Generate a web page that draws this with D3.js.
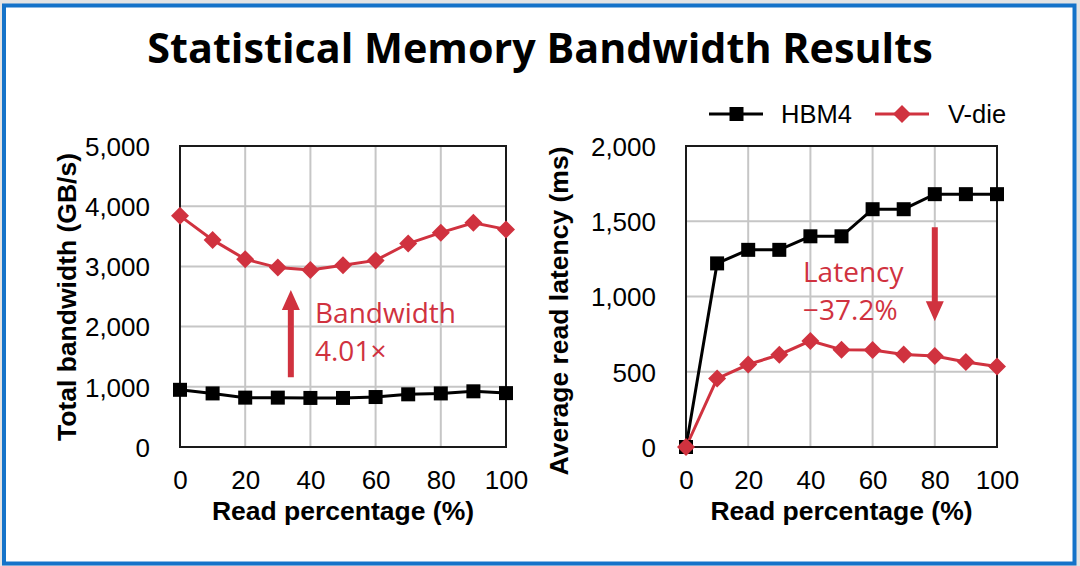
<!DOCTYPE html>
<html>
<head>
<meta charset="utf-8">
<script src="https://cdn.jsdelivr.net/npm/d3@7"></script>
<style>
  html, body { margin: 0; padding: 0; background: #e4e4e4; }
  svg { display: block; }
</style>
</head>
<body>
<svg id="chart" width="1080" height="566"></svg>
<script>
// ---- data ----
const readPct = [0, 10, 20, 30, 40, 50, 60, 70, 80, 90, 100];
const bwHBM4 = [950, 890, 820, 820, 815, 815, 830, 875, 890, 925, 895];
const bwVdie = [3840, 3440, 3120, 2980, 2940, 3020, 3100, 3380, 3560, 3725, 3615];
const latHBM4 = [0, 1220, 1310, 1310, 1400, 1400, 1580, 1580, 1680, 1680, 1680];
const latVdie = [0, 455, 548, 613, 705, 646, 645, 615, 605, 565, 535];
const xTicks = [0, 20, 40, 60, 80, 100];
const bwTicks = [0, 1000, 2000, 3000, 4000, 5000];
const latTicks = [0, 500, 1000, 1500, 2000];
const seriesNames = ["HBM4", "V-die"];
const titleText = "Statistical Memory Bandwidth Results";
const bwAnnot = ["Bandwidth", "4.01×"];
const latAnnot = ["Latency", "\u221237.2%"];

const BLACK = "#000000";
const RED = "#d0323f";
const GRID = "#c6c6c6";

const svg = d3.select("#chart");

// frame
svg.append("rect").attr("x", 0).attr("y", 0).attr("width", 1080).attr("height", 566).attr("fill", "#e4e4e4");
svg.append("rect").attr("x", 4).attr("y", 5.5).attr("width", 1070.5).attr("height", 558)
  .attr("fill", "#ffffff").attr("stroke", "#1573c9").attr("stroke-width", 4);

// title
svg.append("text").attr("x", 540).attr("y", 63).attr("text-anchor", "middle")
  .attr("font-family", "'Open Sans', sans-serif").attr("font-weight", 700).attr("font-size", 41.3)
  .attr("fill", "#000").text(titleText);

const fontAxis = "'Liberation Sans', Arial, sans-serif";

function panel(opts) {
  const x = d3.scaleLinear().domain([0, 100]).range([opts.x0, opts.x1]);
  const y = d3.scaleLinear().domain([0, opts.ymax]).range([447, 146]);
  const g = svg.append("g");

  // grid
  g.append("g").selectAll("line").data(xTicks.slice(1, -1)).join("line")
    .attr("x1", d => x(d)).attr("x2", d => x(d)).attr("y1", y(0)).attr("y2", y(opts.ymax))
    .attr("stroke", GRID).attr("stroke-width", 2);
  g.append("g").selectAll("line").data(opts.yTicks.slice(1, -1)).join("line")
    .attr("x1", x(0)).attr("x2", x(100)).attr("y1", d => y(d)).attr("y2", d => y(d))
    .attr("stroke", GRID).attr("stroke-width", 2);

  // border
  g.append("rect").attr("x", x(0)).attr("y", y(opts.ymax)).attr("width", x(100) - x(0)).attr("height", y(0) - y(opts.ymax))
    .attr("fill", "none").attr("stroke", "#1a1a1a").attr("stroke-width", 2);

  // axes via d3.axis (labels only)
  const xAxis = d3.axisBottom(x).tickValues(xTicks).tickSize(0).tickPadding(0).tickFormat(d3.format("d"));
  const gx = g.append("g").attr("transform", `translate(0,${y(0)})`).call(xAxis);
  gx.select(".domain").remove();
  gx.selectAll("text").attr("font-family", fontAxis).attr("font-size", 26).attr("fill", "#000")
    .attr("dy", null).attr("y", 42);

  const yAxis = d3.axisLeft(y).tickValues(opts.yTicks).tickSize(0).tickPadding(0).tickFormat(d3.format(","));
  const gy = g.append("g").attr("transform", `translate(${opts.ylabX},0)`).call(yAxis);
  gy.select(".domain").remove();
  gy.selectAll("text").attr("font-family", fontAxis).attr("font-size", 26).attr("fill", "#000")
    .attr("x", 0).attr("dy", "0.36em");

  // axis titles
  g.append("text").attr("x", (x(0) + x(100)) / 2).attr("y", 520).attr("text-anchor", "middle")
    .attr("font-family", fontAxis).attr("font-weight", 700).attr("font-size", 26.5).attr("fill", "#000")
    .text("Read percentage (%)");
  g.append("text").attr("transform", `translate(${opts.ytitleX},${opts.ytitleY}) rotate(-90)`)
    .attr("text-anchor", "middle")
    .attr("font-family", fontAxis).attr("font-weight", 700).attr("font-size", 26.5).attr("fill", "#000")
    .text(opts.ytitle);

  // lines
  const line = d3.line().x((d, i) => x(readPct[i])).y(d => y(d));
  g.append("path").datum(opts.black).attr("d", line).attr("fill", "none").attr("stroke", BLACK).attr("stroke-width", 3);
  g.append("path").datum(opts.red).attr("d", line).attr("fill", "none").attr("stroke", RED).attr("stroke-width", 3);

  // markers
  g.append("g").selectAll("rect").data(opts.black).join("rect")
    .attr("x", (d, i) => x(readPct[i]) - 7).attr("y", d => y(d) - 7)
    .attr("width", 14).attr("height", 14).attr("fill", BLACK);
  g.append("g").selectAll("path").data(opts.red).join("path")
    .attr("transform", (d, i) => `translate(${x(readPct[i])},${y(d)})`)
    .attr("d", "M0,-9L9,0L0,9L-9,0Z").attr("fill", RED);
  return { x, y, g };
}

const left = panel({ x0: 180, x1: 506, ymax: 5000, yTicks: bwTicks, ylabX: 150,
  ytitle: "Total bandwidth (GB/s)", ytitleX: 76, ytitleY: 297, black: bwHBM4, red: bwVdie });
const right = panel({ x0: 686, x1: 997, ymax: 2000, yTicks: latTicks, ylabX: 656,
  ytitle: "Average read latency (ms)", ytitleX: 568, ytitleY: 311, black: latHBM4, red: latVdie });

// arrows (anchored to data coordinates)
function arrow(x, yFrom, yTo) {
  const dir = yTo < yFrom ? -1 : 1;
  const headLen = 20, headW = 9, shaftW = 3;
  const yb = yTo - dir * headLen;
  const p = `M${x - shaftW},${yFrom}L${x - shaftW},${yb}L${x - headW},${yb}L${x},${yTo}L${x + headW},${yb}L${x + shaftW},${yb}L${x + shaftW},${yFrom}Z`;
  svg.append("path").attr("d", p).attr("fill", RED);
}
arrow(left.x(34), left.y(1160), left.y(2610));
arrow(right.x(80), right.y(1460), right.y(835));

const fontAnn = "'Open Sans', sans-serif";
function annot(x, y0, lines) {
  lines.forEach((t, i) => {
    svg.append("text").attr("x", x).attr("y", y0 + i * 38)
      .attr("font-family", fontAnn).attr("font-size", 28).attr("fill", RED).text(t);
  });
}
annot(315, 323, bwAnnot);
annot(803, 282, latAnnot);

// legend
const leg = svg.append("g").attr("font-family", fontAxis).attr("font-size", 25.5);
leg.append("line").attr("x1", 709).attr("x2", 763).attr("y1", 114).attr("y2", 114).attr("stroke", BLACK).attr("stroke-width", 3);
leg.append("rect").attr("x", 729.5).attr("y", 107).attr("width", 14).attr("height", 14).attr("fill", BLACK);
leg.append("text").attr("x", 781).attr("y", 114).attr("dy", "0.36em").text(seriesNames[0]);
leg.append("line").attr("x1", 875).attr("x2", 929).attr("y1", 114).attr("y2", 114).attr("stroke", RED).attr("stroke-width", 3);
leg.append("path").attr("transform", "translate(902,114)").attr("d", "M0,-9L9,0L0,9L-9,0Z").attr("fill", RED);
leg.append("text").attr("x", 948).attr("y", 114).attr("dy", "0.36em").text(seriesNames[1]);
</script>
</body>
</html>
